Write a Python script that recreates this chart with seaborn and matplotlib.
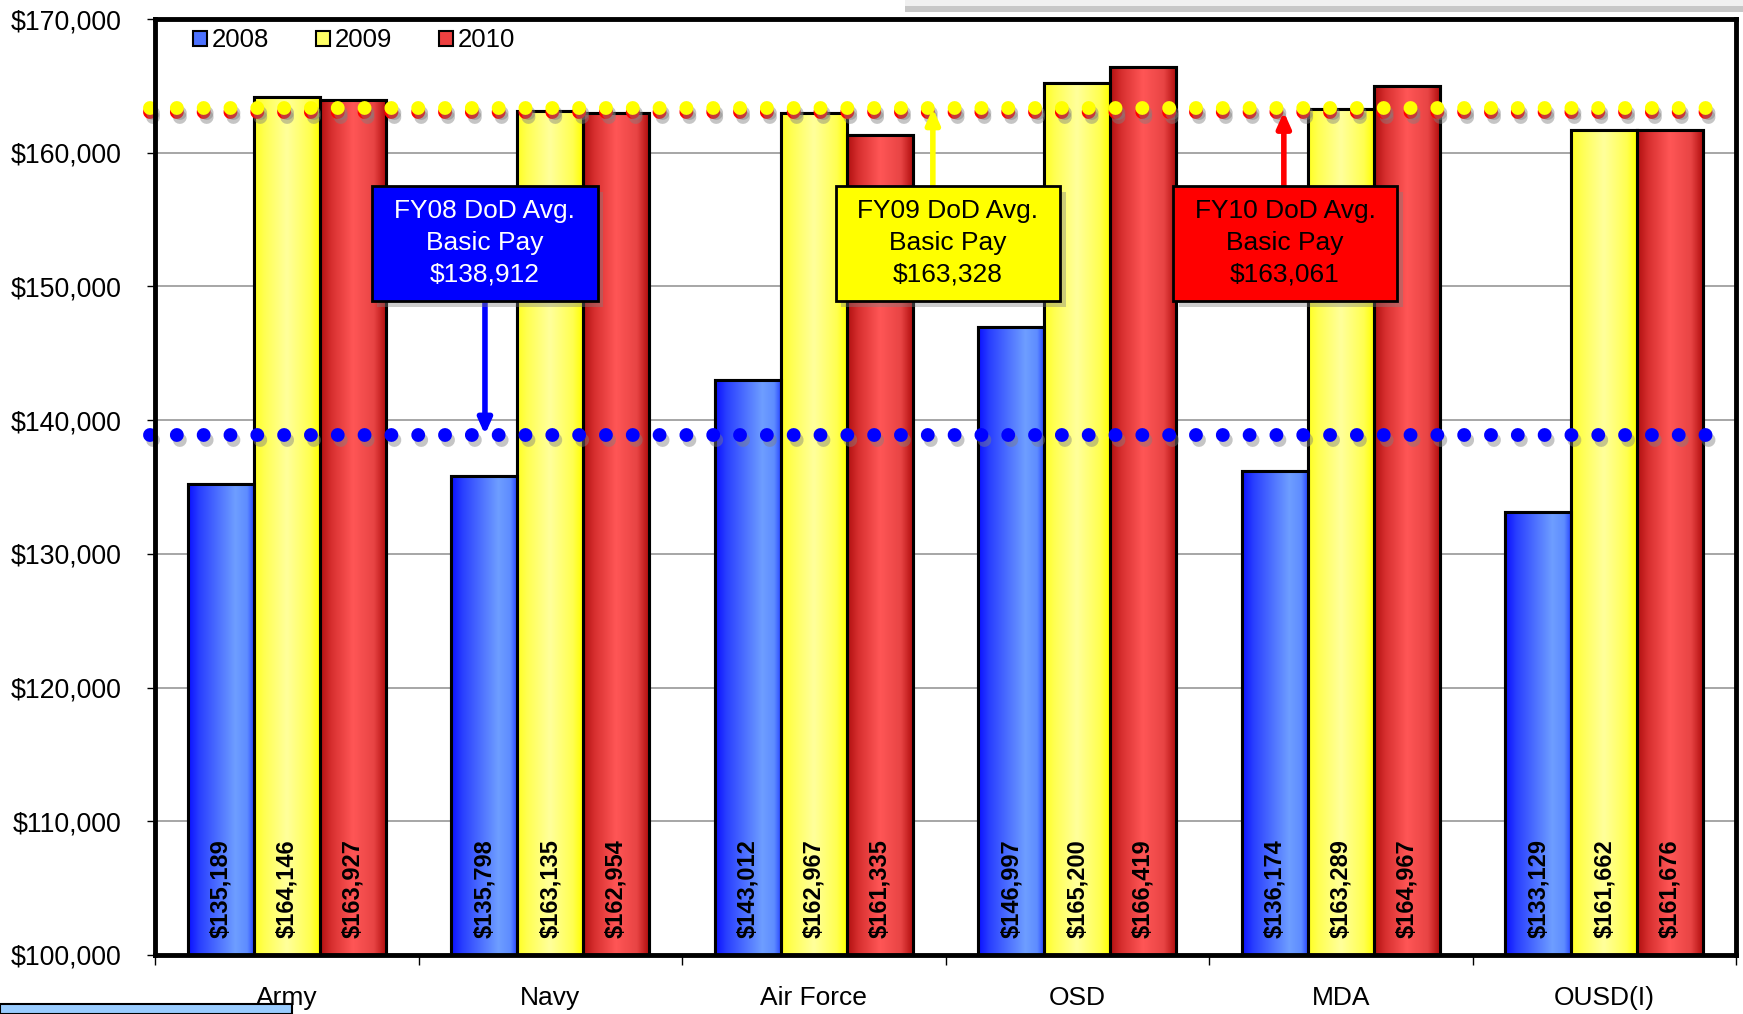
import numpy as np
import pandas as pd
import matplotlib
matplotlib.use("Agg")
import matplotlib.pyplot as plt
import seaborn as sns
from matplotlib.colors import LinearSegmentedColormap
from matplotlib.patches import Rectangle, Patch
import matplotlib.patheffects as pe

# ---- data -------------------------------------------------------------
categories = ["Army", "Navy", "Air Force", "OSD", "MDA", "OUSD(I)"]
years = ["2008", "2009", "2010"]
pay_2008 = [135189, 135798, 143012, 146997, 136174, 133129]
pay_2009 = [164146, 163135, 162967, 165200, 163289, 161662]
pay_2010 = [163927, 162954, 161335, 166419, 164967, 161676]
dod_avg = [138912, 163328, 163061]
avg_titles = ["FY08 DoD Avg.\nBasic Pay", "FY09 DoD Avg.\nBasic Pay", "FY10 DoD Avg.\nBasic Pay"]
y_ticks = [100000, 110000, 120000, 130000, 140000, 150000, 160000, 170000]

df = pd.DataFrame({
    "Component": categories * 3,
    "Year": np.repeat(years, len(categories)),
    "Pay": pay_2008 + pay_2009 + pay_2010,
})

# ---- styling ----------------------------------------------------------
plt.rcParams["font.family"] = ["Liberation Sans", "DejaVu Sans"]

base_colors = {"2008": "#4d72ff", "2009": "#ffff66", "2010": "#ee4040"}
gradient_stops = {
    "2008": [(0.0, "#0a10ff"), (0.18, "#2a40ff"), (0.72, "#6e9eff"), (0.9, "#5e8cff"), (1.0, "#2a48ff")],
    "2009": [(0.0, "#ffff20"), (0.15, "#ffff50"), (0.5, "#ffff9c"), (0.85, "#ffff50"), (1.0, "#ffff00")],
    "2010": [(0.0, "#b00f0f"), (0.18, "#d83030"), (0.5, "#ff5656"), (0.82, "#e84444"), (1.0, "#b20e0e")],
}
line_colors = ["#0000ff", "#ffff00", "#ff0000"]
box_faces = ["#0000ff", "#ffff00", "#ff0000"]
box_text = ["white", "black", "black"]

W, H = 1743, 1014
fig = plt.figure(figsize=(W / 100, H / 100), dpi=100)
fig.patch.set_facecolor("white")
ax = fig.add_axes([155 / W, 59 / H, 1581 / W, 936 / H])

sns.barplot(
    data=df, x="Component", y="Pay", hue="Year",
    order=categories, hue_order=years, palette=base_colors,
    width=0.75, saturation=1, edgecolor="black", linewidth=2.2,
    legend=False, ax=ax, zorder=3,
)

ax.set_xlim(-0.5, 5.5)
ax.set_ylim(y_ticks[0], y_ticks[-1])
y_floor = ax.get_ylim()[0]

# horizontal cylinder-like shading on every bar
for year, cont in zip(years, ax.containers):
    cmap = LinearSegmentedColormap.from_list("g" + year, gradient_stops[year])
    for bar in cont:
        x0, w, h = bar.get_x(), bar.get_width(), bar.get_height()
        ax.imshow(np.linspace(0, 1, 256)[None, :], cmap=cmap,
                  extent=[x0, x0 + w, y_floor, h], aspect="auto",
                  origin="lower", interpolation="bicubic", zorder=3.1)
        ax.add_patch(Rectangle((x0, 0), w, h, fill=False, edgecolor="black",
                               lw=2.2, zorder=3.2))
        ax.text(x0 + w / 2, 101300, f"${int(round(h)):,}", rotation=90,
                ha="center", va="bottom", fontsize=17, fontweight="bold",
                color="black", zorder=4)

ax.set_xlim(-0.5, 5.5)
ax.set_ylim(y_ticks[0], y_ticks[-1])

# dotted DoD average lines
for val, col in [(dod_avg[0], line_colors[0]), (dod_avg[2], line_colors[2]), (dod_avg[1], line_colors[1])]:
    ax.plot([-0.52, 5.42], [val, val], color=col, lw=10,
            linestyle=(0, (0.001, 1.93)), dash_capstyle="round",
            clip_on=False, zorder=5,
            path_effects=[pe.SimpleLineShadow(offset=(2.5, -3.5), shadow_color="#808080", alpha=0.45),
                          pe.Normal()])

# call-out boxes with arrows to the average lines
box_x = [(0.137, 0.280), (0.4307, 0.5724), (0.6439, 0.7856)]
box_y = (0.6987, 0.8216)
arrow_x = [0.2087, 0.492, 0.714]
for i in range(3):
    x0, x1 = box_x[i]
    rect = Rectangle((x0, box_y[0]), x1 - x0, box_y[1] - box_y[0], transform=ax.transAxes,
                     facecolor=box_faces[i], edgecolor="black", lw=2, zorder=6,
                     path_effects=[pe.SimplePatchShadow(offset=(4, -4), shadow_rgbFace="#808080", alpha=0.4),
                                   pe.Normal()])
    ax.add_patch(rect)
    ax.text((x0 + x1) / 2, (box_y[0] + box_y[1]) / 2 + 0.001,
            f"{avg_titles[i]}\n${dod_avg[i]:,}", transform=ax.transAxes,
            ha="center", va="center", fontsize=19, color=box_text[i],
            linespacing=1.42, zorder=7)
    start_y = box_y[0] if i == 0 else box_y[1]
    ax.annotate("", xy=(arrow_x[i], dod_avg[i]), xycoords=("axes fraction", "data"),
                xytext=(arrow_x[i], start_y), textcoords="axes fraction",
                arrowprops=dict(arrowstyle="-|>,head_length=0.9,head_width=0.4",
                                color=line_colors[i], lw=4, shrinkA=0, shrinkB=0),
                zorder=5.5)

# axes, ticks and grid
ax.set_axisbelow(True)
ax.yaxis.grid(True, color="#a6a6a6", lw=1.4)
ax.xaxis.grid(False)
ax.set_yticks(y_ticks)
ax.set_yticklabels([f"${v:,}" for v in y_ticks])
ax.tick_params(axis="y", length=6, width=1, pad=18, labelsize=19.3, direction="out")
ax.set_xticks(range(len(categories)))
ax.set_xticklabels(categories)
ax.tick_params(axis="x", which="major", length=0, pad=22, labelsize=19)
ax.set_xticks(np.arange(-0.5, len(categories), 1), minor=True)
ax.tick_params(axis="x", which="minor", length=7, width=1, direction="out")
ax.set_xlabel("")
ax.set_ylabel("")
for s in ax.spines.values():
    s.set_linewidth(3.5)
    s.set_color("black")
    s.set_zorder(8)

handles = [Patch(facecolor=base_colors[y], edgecolor="black", lw=1.5) for y in years]
ax.legend(handles, years, ncol=3, loc="upper left", bbox_to_anchor=(0.024, 0.99),
          frameon=False, fontsize=18.5, handlelength=0.55, handleheight=0.55,
          handletextpad=0.2, columnspacing=1.8, borderpad=0, borderaxespad=0)

# slide panels peeking in at the edges
fig.patches.append(Rectangle((905 / W, 1 - 6 / H), 1 - 905 / W, 6 / H, transform=fig.transFigure,
                             facecolor="#f0f0f0", edgecolor="none", zorder=10,
                             path_effects=[pe.SimplePatchShadow(offset=(0, -4), shadow_rgbFace="#909090", alpha=0.5),
                                           pe.Normal()]))
fig.patches.append(Rectangle((0, 0), 292 / W, 10 / H, transform=fig.transFigure,
                             facecolor="#99ccff", edgecolor="black", lw=1.5, zorder=10))

fig.savefig("out.png", dpi=100)
